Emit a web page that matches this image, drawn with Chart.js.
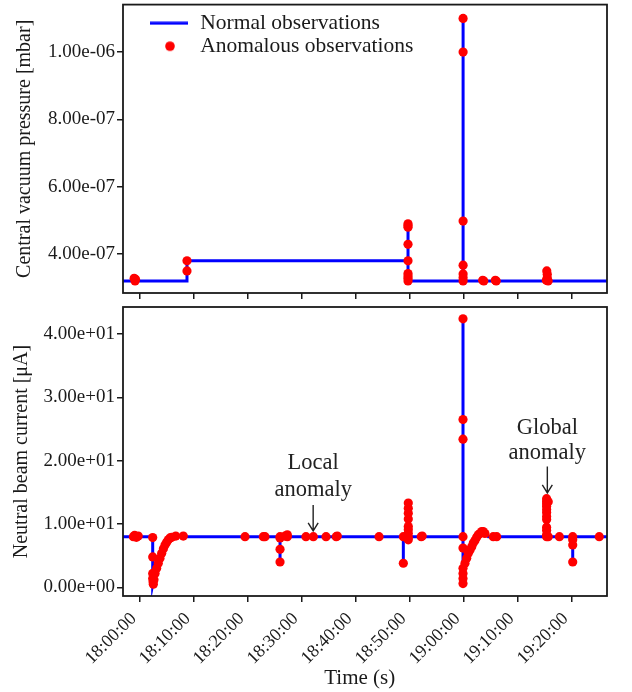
<!DOCTYPE html>
<html>
<head>
<meta charset="utf-8">
<script src="https://cdn.jsdelivr.net/npm/chart.js@4.4.1/dist/chart.umd.min.js"></script>
<style>
body { margin: 0; background: #fff; }
canvas { display: block; }
</style>
</head>
<body>
<canvas id="pressure" width="632" height="300"></canvas>
<canvas id="current" width="632" height="392"></canvas>
<script>
// shared time axis
var timeTicks = ['18:00:00', '18:10:00', '18:20:00', '18:30:00', '18:40:00', '18:50:00', '19:00:00', '19:10:00', '19:20:00'];
var timeMin = '17:56:51';
var timeMax = '19:26:29';

// central vacuum pressure
var pressureTimes = ['17:50:00', '18:08:42', '18:08:42', '18:49:38', '18:49:38', '18:49:38', '18:59:50', '18:59:50', '18:59:50', '19:30:00'];
var pressureValues = [3.2e-7, 3.2e-7, 3.8e-7, 3.8e-7, 4.9e-7, 3.2e-7, 3.2e-7, 1.1e-6, 3.2e-7, 3.2e-7];
var pressureAnomalyTimes = ['17:58:55', '17:59:05', '17:59:10',
    '18:08:42', '18:08:42',
    '18:49:38', '18:49:38', '18:49:38', '18:49:38', '18:49:38', '18:49:38', '18:49:38', '18:49:38', '18:49:38',
    '18:59:50', '18:59:50', '18:59:50', '18:59:50', '18:59:50', '18:59:50', '18:59:50',
    '19:03:28', '19:03:40', '19:05:48', '19:05:58',
    '19:15:20', '19:15:25', '19:15:25', '19:15:15', '19:15:35'];
var pressureAnomalyValues = [3.28e-7, 3.2e-7, 3.25e-7,
    3.8e-7, 3.5e-7,
    4.9e-7, 4.85e-7, 4.8e-7, 4.29e-7, 3.8e-7, 3.42e-7, 3.35e-7, 3.28e-7, 3.2e-7,
    1.1e-6, 1.0e-6, 4.98e-7, 3.67e-7, 3.41e-7, 3.3e-7, 3.2e-7,
    3.22e-7, 3.2e-7, 3.22e-7, 3.2e-7,
    3.5e-7, 3.4e-7, 3.3e-7, 3.22e-7, 3.2e-7];
var pressureTicks = [4e-7, 6e-7, 8e-7, 1e-6];

// neutral beam current
var currentTimes = ['17:50:00',
    '18:02:21', '18:02:21', '18:02:47', '18:03:23', '18:04:01', '18:04:38', '18:05:14', '18:05:52', '18:06:30',
    '18:25:56', '18:25:56', '18:25:56',
    '18:48:46', '18:48:46', '18:48:46',
    '18:49:41', '18:49:41', '18:49:41',
    '18:59:49', '18:59:49', '18:59:49', '19:00:11', '19:00:48', '19:01:43', '19:02:21', '19:02:58', '19:03:34', '19:03:53', '19:04:30',
    '19:15:26', '19:15:26', '19:15:26',
    '19:20:08', '19:20:08', '19:20:08',
    '19:30:00'];
var currentValues = [8.0,
    8.0, 0.4, 2.2, 3.8, 5.4, 6.7, 7.5, 7.9, 8.0,
    8.0, 4.0, 8.0,
    8.0, 3.8, 8.0,
    8.0, 13.3, 8.0,
    8.0, 42.4, 0.6, 3.8, 5.4, 7.0, 7.9, 8.5, 8.8, 8.5, 8.0,
    8.0, 14.0, 8.0,
    8.0, 4.0, 8.0,
    8.0];
var currentAnomalyTimes = ['17:58:46', '17:59:00', '17:59:20', '17:59:40',
    '18:02:21', '18:02:21', '18:02:21', '18:02:21', '18:02:25', '18:02:28',
    '18:02:35', '18:02:47', '18:03:05', '18:03:23', '18:03:42', '18:04:01', '18:04:20', '18:04:38', '18:04:56', '18:05:14', '18:05:33', '18:05:52',
    '18:06:37', '18:08:01', '18:19:27', '18:22:50', '18:23:09',
    '18:25:56', '18:25:56', '18:25:56', '18:25:56',
    '18:26:51', '18:27:17', '18:27:17', '18:30:44', '18:32:06', '18:34:27', '18:36:20', '18:36:32', '18:44:16',
    '18:48:46', '18:48:46',
    '18:49:30', '18:49:41', '18:49:41', '18:49:41', '18:49:41', '18:49:41', '18:49:41', '18:49:41', '18:49:41', '18:49:41',
    '18:52:05', '18:52:15',
    '18:59:49', '18:59:49', '18:59:49', '18:59:49', '18:59:49', '18:59:49', '18:59:49', '18:59:49', '18:59:49',
    '19:00:11', '19:00:30', '19:00:48', '19:01:07', '19:01:26', '19:01:43', '19:02:02', '19:02:21', '19:02:39', '19:02:58', '19:03:17', '19:03:34', '19:03:53',
    '19:05:25', '19:06:03',
    '19:15:18', '19:15:18', '19:15:18', '19:15:18', '19:15:18', '19:15:18', '19:15:18', '19:15:18', '19:15:18', '19:15:18', '19:15:18', '19:15:18', '19:15:36', '19:15:36',
    '19:17:40',
    '19:20:08', '19:20:08', '19:20:08', '19:20:08',
    '19:25:03'];
var currentAnomalyValues = [8.0, 8.2, 7.9, 8.1,
    7.85, 4.8, 2.2, 1.4, 0.9, 0.5,
    1.2, 2.2, 3.0, 3.8, 4.6, 5.4, 6.1, 6.7, 7.1, 7.5, 7.8, 7.9,
    8.1, 8.1, 8.0, 8.0, 8.0,
    8.0, 7.8, 6.0, 4.0,
    8.1, 8.3, 8.0, 8.0, 8.0, 8.0, 8.0, 8.1, 8.0,
    8.0, 3.8,
    8.0, 13.3, 12.5, 11.7, 10.8, 9.6, 9.1, 8.5, 7.9, 7.5,
    8.0, 8.1,
    42.4, 26.5, 23.4, 8.0, 6.2, 3.0, 2.2, 1.4, 0.6,
    3.8, 4.6, 5.4, 5.9, 6.4, 7.0, 7.4, 7.9, 8.3, 8.5, 8.8, 8.8, 8.5,
    8.0, 8.0,
    14.0, 13.6, 13.2, 12.8, 12.3, 11.8, 11.2, 10.7, 9.5, 9.0, 8.3, 8.0, 8.0, 13.5,
    8.0,
    8.0, 7.5, 6.7, 4.0,
    8.0];
var currentTicks = [0, 10, 20, 30, 40];

// annotations on the current panel
var noteTexts = [['Local', 'anomaly'], ['Global', 'anomaly']];
var noteTimes = ['18:32:04', '19:15:26'];
var noteTextValues = [[19.6, 15.4], [25.1, 21.2]];
var noteArrowValues = [[13.0, 8.9], [19.1, 14.9]];

var serif = "'Liberation Serif', 'Times New Roman', serif";
var ink = '#1a1a1a';
var nbsp = '\u00a0';

function toSec(t) {
    var p = t.split(':');
    return (+p[0]) * 3600 + (+p[1]) * 60 + (+p[2]);
}
function clock(s) {
    var h = Math.floor(s / 3600), m = Math.floor((s % 3600) / 60), sec = Math.round(s % 60);
    var pad = function(n) { return n < 10 ? '0' + n : '' + n; };
    return pad(h) + ':' + pad(m) + ':' + pad(sec);
}
function sci(v) {
    var parts = v.toExponential(2).split('e');
    var exp = parseInt(parts[1], 10);
    var e = Math.abs(exp);
    return parts[0] + 'e' + (exp < 0 ? '-' : '+') + (e < 10 ? '0' + e : e);
}
function points(times, values) {
    var out = [];
    for (var i = 0; i < times.length; i++) {
        out.push({x: toSec(times[i]), y: values[i]});
    }
    return out;
}

// box round the plot area
var frame = {
    id: 'frame',
    afterDraw: function(chart) {
        var a = chart.chartArea, ctx = chart.ctx;
        ctx.save();
        ctx.strokeStyle = ink;
        ctx.lineWidth = 1.8;
        ctx.strokeRect(a.left, a.top, a.right - a.left, a.bottom - a.top);
        ctx.restore();
    }
};

var notes = {
    id: 'notes',
    afterDatasetsDraw: function(chart) {
        if (chart.canvas.id !== 'current') return;
        var ctx = chart.ctx, xs = chart.scales.x, ys = chart.scales.y;
        ctx.save();
        ctx.fillStyle = '#222';
        ctx.strokeStyle = '#222';
        ctx.lineWidth = 1.4;
        ctx.font = '22.5px ' + serif;
        ctx.textAlign = 'center';
        ctx.textBaseline = 'middle';
        for (var i = 0; i < noteTexts.length; i++) {
            var x = xs.getPixelForValue(toSec(noteTimes[i]));
            for (var k = 0; k < noteTexts[i].length; k++) {
                ctx.fillText(noteTexts[i][k], x, ys.getPixelForValue(noteTextValues[i][k]));
            }
            var y0 = ys.getPixelForValue(noteArrowValues[i][0]);
            var y1 = ys.getPixelForValue(noteArrowValues[i][1]);
            ctx.beginPath();
            ctx.moveTo(x, y0);
            ctx.lineTo(x, y1);
            ctx.moveTo(x - 5, y1 - 8);
            ctx.lineTo(x, y1);
            ctx.lineTo(x + 5, y1 - 8);
            ctx.stroke();
        }
        ctx.restore();
    }
};

function icon(w, h, draw) {
    var c = document.createElement('canvas');
    c.width = w; c.height = h;
    draw(c.getContext('2d'));
    return c;
}
var legendIcons = [
    icon(70, 4, function(g) { g.fillStyle = '#0000ff'; g.fillRect(28, 0.5, 38, 3); }),
    icon(44, 12, function(g) { g.fillStyle = '#ff0000'; g.beginPath(); g.arc(35, 6, 4.8, 0, Math.PI * 2); g.fill(); })
];

function makeChart(id, normal, anomalies, yTicks, yMin, yMax, yTitle, bottom) {
    var ctx = document.getElementById(id);
    return new Chart(ctx, {
        type: 'scatter',
        data: {
            datasets: [{
                label: 'Normal observations',
                data: normal,
                showLine: true,
                borderColor: '#0000ff',
                backgroundColor: '#0000ff',
                borderWidth: 3,
                pointRadius: 0,
                order: 2
            }, {
                label: 'Anomalous observations',
                data: anomalies,
                borderWidth: 0,
                backgroundColor: '#ff0000',
                pointRadius: 4.6,
                order: 1
            }]
        },
        options: {
            responsive: false,
            animation: false,
            events: [],
            layout: { padding: { top: bottom ? 7 : 4, right: 25, left: 0, bottom: 0 } },
            plugins: {
                tooltip: { enabled: false },
                legend: bottom ? { display: false } : {
                    position: 'chartArea',
                    align: 'start',
                    title: { display: true, text: '', font: { size: 11, lineHeight: 1 }, padding: 0 },
                    labels: {
                        usePointStyle: true,
                        pointStyleWidth: 65,
                        padding: 1.5,
                        color: ink,
                        font: { family: serif, size: 21.5 },
                        sort: function(a, b) { return a.datasetIndex - b.datasetIndex; },
                        generateLabels: function(chart) {
                            var items = Chart.defaults.plugins.legend.labels.generateLabels(chart);
                            items.forEach(function(it) { it.pointStyle = legendIcons[it.datasetIndex]; });
                            return items;
                        }
                    }
                }
            },
            scales: {
                x: {
                    type: 'linear',
                    min: toSec(timeMin),
                    max: toSec(timeMax),
                    afterBuildTicks: function(scale) {
                        scale.ticks = timeTicks.map(function(t) { return {value: toSec(t)}; });
                    },
                    afterFit: function(scale) {
                        scale.height = bottom ? 96 : 7;
                        scale.paddingLeft = 0;
                        scale.paddingRight = 0;
                    },
                    grid: { drawOnChartArea: false, drawTicks: true, tickLength: 6, color: ink, lineWidth: 1.5 },
                    border: { display: false },
                    ticks: {
                        display: bottom,
                        autoSkip: false,
                        minRotation: 45,
                        maxRotation: 45,
                        padding: 0,
                        color: ink,
                        font: { family: serif, size: 18 },
                        callback: function(v) { return clock(v) + nbsp + nbsp; }
                    },
                    title: {
                        display: bottom,
                        text: 'Time (s)' + nbsp + nbsp,
                        color: ink,
                        font: { family: serif, size: 21 },
                        padding: { top: 0, bottom: 1 }
                    }
                },
                y: {
                    min: yMin,
                    max: yMax,
                    afterBuildTicks: function(scale) {
                        scale.ticks = yTicks.map(function(v) { return {value: v}; });
                    },
                    afterFit: function(scale) {
                        scale.width = 123;
                        scale.paddingTop = 0;
                        scale.paddingBottom = 0;
                    },
                    grid: { drawOnChartArea: false, drawTicks: true, tickLength: 6, color: ink, lineWidth: 1.5 },
                    border: { display: false },
                    ticks: {
                        padding: 2,
                        color: ink,
                        font: { family: serif, size: 19 },
                        callback: function(v) { return sci(v); }
                    },
                    title: {
                        display: true,
                        text: yTitle,
                        color: ink,
                        font: { family: serif, size: 20 },
                        padding: { top: bottom ? 10 : 13, bottom: 0 }
                    }
                }
            }
        },
        plugins: [frame, notes]
    });
}

makeChart('pressure', points(pressureTimes, pressureValues), points(pressureAnomalyTimes, pressureAnomalyValues),
    pressureTicks, 2.844e-7, 1.141e-6, 'Central vacuum pressure [mbar]', false);
makeChart('current', points(currentTimes, currentValues), points(currentAnomalyTimes, currentAnomalyValues),
    currentTicks, -1.37, 44.27, 'Neutral beam current [\u03bcA]', true);
</script>
</body>
</html>
